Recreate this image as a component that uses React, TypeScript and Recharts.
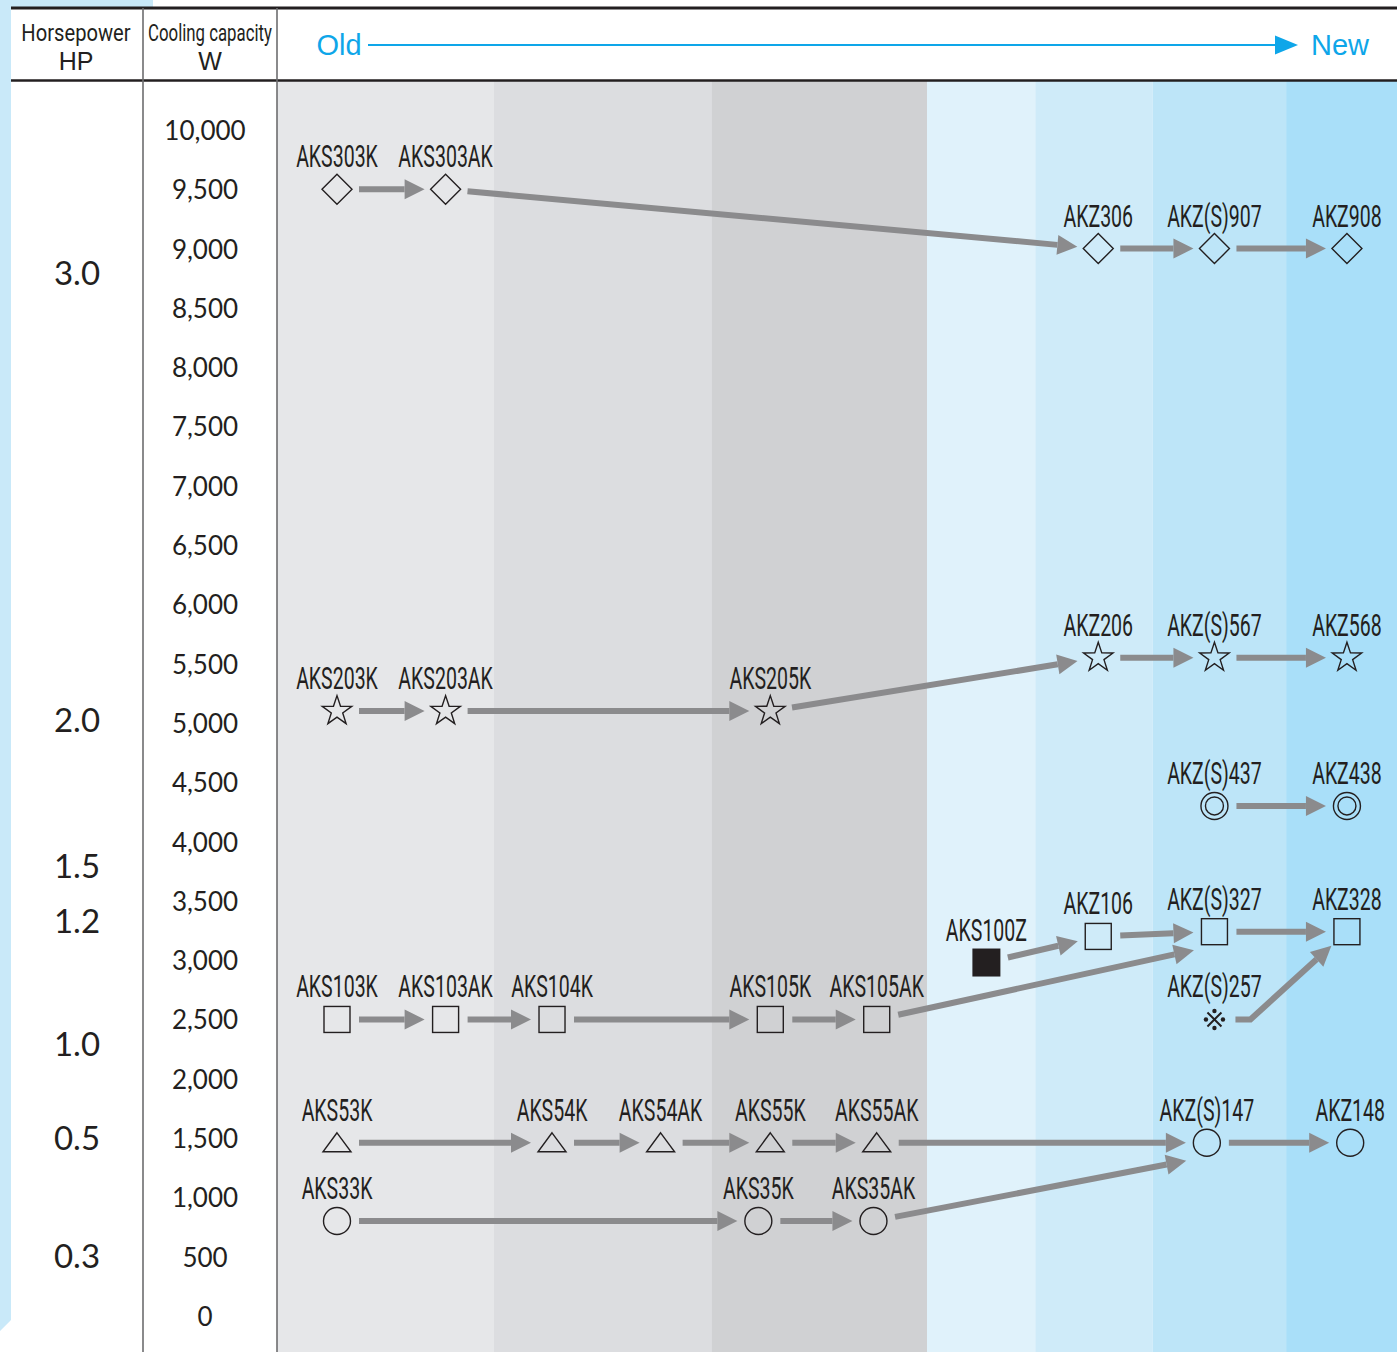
import React from "react";
import { ScatterChart, Scatter, XAxis, YAxis, ReferenceArea, ReferenceLine } from "recharts";

const W = 1397;
const H = 1352;

// cooling capacity axis (W)
const capacityTicks = [0, 500, 1000, 1500, 2000, 2500, 3000, 3500, 4000, 4500, 5000, 5500, 6000, 6500, 7000, 7500, 8000, 8500, 9000, 9500, 10000];
// horsepower labels and where they sit on the capacity scale
const hpLabels = ["3.0", "2.0", "1.5", "1.2", "1.0", "0.5", "0.3"];
const hpAtCapacity = [8800, 5030, 3800, 3340, 2300, 1510, 510];

// generation bands, old (grey) -> new (blue)
const bandEdges = [-0.5525, 1.446, 3.453, 5.433, 6.43, 7.51, 8.74, 9.761];
const bandColors = ["#e6e7e9", "#dcdde0", "#d0d1d3", "#e0f2fb", "#cfebf9", "#bde5f8", "#a9dff9"];

// models
const modelNames = [
  "AKS303K", "AKS303AK", "AKZ306", "AKZ(S)907", "AKZ908",
  "AKS203K", "AKS203AK", "AKS205K", "AKZ206", "AKZ(S)567", "AKZ568",
  "AKZ(S)437", "AKZ438",
  "AKS103K", "AKS103AK", "AKS104K", "AKS105K", "AKS105AK", "AKS100Z", "AKZ106", "AKZ(S)327", "AKZ328", "AKZ(S)257",
  "AKS53K", "AKS54K", "AKS54AK", "AKS55K", "AKS55AK", "AKZ(S)147", "AKZ148",
  "AKS33K", "AKS35K", "AKS35AK",
];
const modelPos = [
  0, 1, 7.01, 8.08, 9.3,
  0, 1, 3.99, 7.01, 8.08, 9.3,
  8.08, 9.3,
  0, 1, 1.98, 3.99, 4.97, 5.98, 7.01, 8.08, 9.3, 8.08,
  0, 1.98, 2.98, 3.99, 4.97, 8.01, 9.33,
  0, 3.88, 4.94,
];
const modelCapacity = [
  9500, 9500, 9000, 9000, 9000,
  5100, 5100, 5100, 5550, 5550, 5550,
  4300, 4300,
  2500, 2500, 2500, 2500, 2500, 2980, 3200, 3240, 3240, 2500,
  1460, 1460, 1460, 1460, 1460, 1460, 1460,
  800, 800, 800,
];
const modelShape = [
  "diamond", "diamond", "diamond", "diamond", "diamond",
  "star", "star", "star", "star", "star", "star",
  "dcircle", "dcircle",
  "square", "square", "square", "square", "square", "solid", "square", "square", "square", "kome",
  "triangle", "triangle", "triangle", "triangle", "triangle", "circle", "circle",
  "circle", "circle", "circle",
];

// successor arrows
const arrowFrom = [
  "AKS303K", "AKS303AK", "AKZ306", "AKZ(S)907",
  "AKS203K", "AKS203AK", "AKS205K", "AKZ206", "AKZ(S)567",
  "AKZ(S)437",
  "AKS103K", "AKS103AK", "AKS104K", "AKS105K", "AKS105AK", "AKS100Z", "AKZ106", "AKZ(S)327", "AKZ(S)257",
  "AKS53K", "AKS54K", "AKS54AK", "AKS55K", "AKS55AK", "AKZ(S)147",
  "AKS33K", "AKS35K", "AKS35AK",
];
const arrowTo = [
  "AKS303AK", "AKZ306", "AKZ(S)907", "AKZ908",
  "AKS203AK", "AKS205K", "AKZ206", "AKZ(S)567", "AKZ568",
  "AKZ438",
  "AKS103AK", "AKS104K", "AKS105K", "AKS105AK", "AKZ(S)327", "AKZ106", "AKZ(S)327", "AKZ328", "AKZ328",
  "AKS54K", "AKS54AK", "AKS55K", "AKS55AK", "AKZ(S)147", "AKZ148",
  "AKS35K", "AKS35AK", "AKZ(S)147",
];
// arrows that land below the target mark, and the one with a short horizontal start
const arrowsLow = ["AKS105AK", "AKS35AK"];
const arrowsBent = ["AKZ(S)257"];

const models = modelNames.map((name, i) => ({
  name,
  pos: modelPos[i],
  cap: modelCapacity[i],
  shape: modelShape[i],
}));
const byName = (n: string) => models.find((m) => m.name === n)!;

const INK = "#231f20";
const ARROW = "#8b8b8d";
const BLUE = "#0ea6e9";
const LABEL_FONT = "Roboto, 'Liberation Sans', sans-serif";
const NUM_FONT = "Lato, 'Noto Sans', sans-serif";

const starPoints = (cx: number, cy: number, R: number, r: number) => {
  const pts: string[] = [];
  for (let k = 0; k < 10; k++) {
    const a = -Math.PI / 2 + (k * Math.PI) / 5;
    const rad = k % 2 === 0 ? R : r;
    pts.push(`${cx + rad * Math.cos(a)},${cy + rad * Math.sin(a)}`);
  }
  return pts.join(" ");
};

const ModelMark = (props: any) => {
  const { cx, cy, payload } = props;
  if (cx == null || cy == null) return null;
  const line = { stroke: INK, strokeWidth: 1.4, fill: "none" };
  let mark: React.ReactNode = null;
  switch (payload.shape) {
    case "diamond":
      mark = <polygon points={`${cx},${cy - 15} ${cx + 15},${cy} ${cx},${cy + 15} ${cx - 15},${cy}`} {...line} />;
      break;
    case "star":
      mark = <polygon points={starPoints(cx, cy, 15.5, 6)} {...line} />;
      break;
    case "square":
      mark = <rect x={cx - 13} y={cy - 13} width={26} height={26} {...line} />;
      break;
    case "solid":
      mark = <rect x={cx - 14} y={cy - 14} width={28} height={28} fill={INK} />;
      break;
    case "dcircle":
      mark = (
        <g>
          <circle cx={cx} cy={cy} r={13.5} {...line} />
          <circle cx={cx} cy={cy} r={9} {...line} />
        </g>
      );
      break;
    case "circle":
      mark = <circle cx={cx} cy={cy} r={13.5} {...line} />;
      break;
    case "triangle":
      mark = <polygon points={`${cx},${cy - 10} ${cx + 14},${cy + 9} ${cx - 14},${cy + 9}`} {...line} />;
      break;
    case "kome":
      // reference mark: a cross with four dots
      mark = (
        <g>
          <path d={`M${cx - 7},${cy - 7}L${cx + 7},${cy + 7}M${cx + 7},${cy - 7}L${cx - 7},${cy + 7}`} stroke={INK} strokeWidth={2} />
          <circle cx={cx} cy={cy - 8.5} r={2.2} fill={INK} />
          <circle cx={cx} cy={cy + 8.5} r={2.2} fill={INK} />
          <circle cx={cx - 8.5} cy={cy} r={2.2} fill={INK} />
          <circle cx={cx + 8.5} cy={cy} r={2.2} fill={INK} />
        </g>
      );
      break;
  }
  return (
    <g>
      {mark}
      <text
        transform={`translate(${cx},${cy - 22}) scale(0.63,1)`}
        textAnchor="middle"
        fontFamily={LABEL_FONT}
        fontSize={31}
        fill={INK}
      >
        {payload.name}
      </text>
    </g>
  );
};

const arrowShape = (drop: number, bent: boolean) => (p: any) => {
  const { x1, y1, x2, y2 } = p;
  if (x1 == null) return <g />;
  const tx = x2;
  const ty = y2 + drop;
  const kx = bent ? x1 + 36 : x1;
  const ky = y1;
  const dx = tx - kx;
  const dy = ty - ky;
  const len = Math.hypot(dx, dy);
  const ux = dx / len;
  const uy = dy / len;
  const sx = bent ? x1 + 21 : x1 + ux * 22;
  const sy = bent ? y1 : y1 + uy * 22;
  const tipX = tx - ux * 21;
  const tipY = ty - uy * 21;
  const bx = tipX - ux * 20;
  const by = tipY - uy * 20;
  const px = -uy * 10;
  const py = ux * 10;
  const d = bent ? `M${sx},${sy}L${kx},${ky}L${bx},${by}` : `M${sx},${sy}L${bx},${by}`;
  return (
    <g>
      <path d={d} stroke={ARROW} strokeWidth={6} fill="none" />
      <polygon points={`${tipX},${tipY} ${bx + px},${by + py} ${bx - px},${by - py}`} fill={ARROW} />
    </g>
  );
};

const CapacityTick = (props: any) => {
  const { y, payload } = props;
  return (
    <text x={205} y={y} textAnchor="middle" dominantBaseline="central" fontFamily={NUM_FONT} fontSize={26} fill={INK}>
      {Number(payload.value).toLocaleString("en-US")}
    </text>
  );
};

const HpTick = (props: any) => {
  const { y, payload } = props;
  const idx = hpAtCapacity.indexOf(payload.value);
  return (
    <text x={77} y={y} textAnchor="middle" dominantBaseline="central" fontFamily={NUM_FONT} fontSize={33} fill={INK}>
      {hpLabels[idx]}
    </text>
  );
};

const Frame = () => (
  <svg width={W} height={H} style={{ position: "absolute", left: 0, top: 0, pointerEvents: "none" }}>
    {/* left blue strip */}
    <polygon points={`0,0 153,0 153,8 11,8 11,1320 0,1331`} fill="#c9e9f9" />
    {/* header rules */}
    <line x1={11} y1={8} x2={W} y2={8} stroke={INK} strokeWidth={2.8} />
    <line x1={11} y1={80.5} x2={W} y2={80.5} stroke={INK} strokeWidth={2.6} />
    <line x1={143} y1={8} x2={143} y2={H} stroke="#6d6d6f" strokeWidth={1.6} />
    <line x1={277} y1={8} x2={277} y2={H} stroke="#6d6d6f" strokeWidth={1.6} />
    {/* header texts */}
    <text transform="translate(76,41) scale(0.84,1)" textAnchor="middle" fontFamily={LABEL_FONT} fontSize={24} fill={INK}>
      Horsepower
    </text>
    <text x={76} y={70} textAnchor="middle" fontFamily="'Liberation Sans', sans-serif" fontSize={25} fill={INK}>
      HP
    </text>
    <text transform="translate(210,41) scale(0.7,1)" textAnchor="middle" fontFamily={LABEL_FONT} fontSize={24} fill={INK}>
      Cooling capacity
    </text>
    <text x={210} y={70} textAnchor="middle" fontFamily="'Liberation Sans', sans-serif" fontSize={25} fill={INK}>
      W
    </text>
    <text x={339} y={55} textAnchor="middle" fontFamily="'Liberation Sans', sans-serif" fontSize={29} fill={BLUE}>
      Old
    </text>
    <line x1={368} y1={45} x2={1278} y2={45} stroke={BLUE} strokeWidth={2} />
    <polygon points="1298,45 1275,35.5 1275,54.5" fill={BLUE} />
    <text x={1340} y={55} textAnchor="middle" fontFamily="'Liberation Sans', sans-serif" fontSize={29} fill={BLUE}>
      New
    </text>
  </svg>
);

export default function App() {
  return (
    <div style={{ position: "absolute", left: 0, top: 0, width: W, height: H, background: "#fff" }}>
      <ScatterChart width={W} height={H} margin={{ top: 81, right: 0, bottom: 0, left: 11 }}>
        <XAxis type="number" dataKey="pos" domain={[bandEdges[0], bandEdges[bandEdges.length - 1]]} allowDataOverflow hide />
        <YAxis
          type="number"
          dataKey="cap"
          domain={[-304, 10413]}
          allowDataOverflow
          ticks={capacityTicks}
          interval={0}
          width={134}
          axisLine={false}
          tickLine={false}
          tick={CapacityTick}
        />
        <YAxis
          yAxisId="hp"
          type="number"
          domain={[-304, 10413]}
          allowDataOverflow
          ticks={hpAtCapacity}
          interval={0}
          width={132}
          axisLine={false}
          tickLine={false}
          tick={HpTick}
        />
        {bandColors.map((c, i) => (
          <ReferenceArea key={c} x1={bandEdges[i]} x2={bandEdges[i + 1]} fill={c} fillOpacity={1} stroke="none" />
        ))}
        {arrowFrom.map((f, i) => {
          const a = byName(f);
          const b = byName(arrowTo[i]);
          return (
            <ReferenceLine
              key={f + arrowTo[i]}
              segment={[{ x: a.pos, y: a.cap }, { x: b.pos, y: b.cap }]}
              shape={arrowShape(arrowsLow.includes(f) ? 14 : 0, arrowsBent.includes(f))}
            />
          );
        })}
        <Scatter data={models} shape={ModelMark} isAnimationActive={false} />
      </ScatterChart>
      <Frame />
    </div>
  );
}
